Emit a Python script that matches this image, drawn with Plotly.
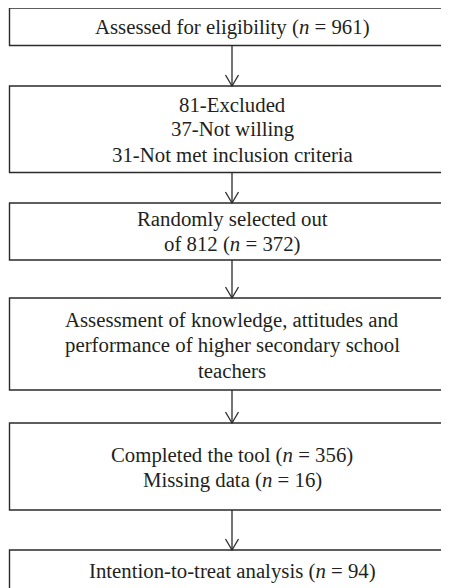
import plotly.graph_objects as go

# ---- content (flowchart steps) ----
step_lines = [
    ["Assessed for eligibility (<i>n</i> = 961)"],
    ["81-Excluded", "37-Not willing", "31-Not met inclusion criteria"],
    ["Randomly selected out", "of 812 (<i>n</i> = 372)"],
    ["Assessment of knowledge, attitudes and",
     "performance of higher secondary school",
     "teachers"],
    ["Completed the tool (<i>n</i> = 356)", "Missing data (<i>n</i> = 16)"],
    ["Intention-to-treat analysis (<i>n</i> = 94)"],
]

# ---- layout geometry (pixels in the 449 x 588 view) ----
W, H = 449, 588
PAGE_OFF = 8  # browser body margin
box_left, box_right = 9.5, 454
box_top = [8, 86, 203, 298, 423, 550]
box_bot = [45.5, 172.5, 260, 390, 510, 600]
text_center = [27, 129, 231, 345, 467, 571]
line_gap = 25
arrow_x = 232
head_w, head_h = 6.5, 11

LINE = "#2a2a2a"
FONT = dict(family="Liberation Serif, Times New Roman, serif", size=20.8, color="#231f20")

fig = go.Figure()
shapes = []
annotations = []

for i, lines in enumerate(step_lines):
    shapes.append(dict(type="rect", xref="x", yref="y",
                       x0=box_left, x1=box_right, y0=box_top[i], y1=box_bot[i],
                       line=dict(color=LINE, width=1.4), fillcolor="rgba(0,0,0,0)"))
    n = len(lines)
    for j, t in enumerate(lines):
        y = text_center[i] + (j - (n - 1) / 2) * line_gap
        annotations.append(dict(x=arrow_x, y=y, xref="x", yref="y", text=t,
                                showarrow=False, font=FONT,
                                xanchor="center", yanchor="middle"))

for i in range(len(step_lines) - 1):
    y0, y1 = box_bot[i], box_top[i + 1]
    shapes.append(dict(type="line", xref="x", yref="y",
                       x0=arrow_x, x1=arrow_x, y0=y0, y1=y1,
                       line=dict(color=LINE, width=1.3)))
    shapes.append(dict(type="path", xref="x", yref="y",
                       path=f"M {arrow_x-head_w},{y1-head_h} L {arrow_x},{y1} L {arrow_x+head_w},{y1-head_h}",
                       line=dict(color=LINE, width=1.3)))

fig.update_layout(
    width=W, height=H,
    margin=dict(l=0, r=0, t=0, b=0),
    paper_bgcolor="white", plot_bgcolor="white",
    xaxis=dict(range=[PAGE_OFF, W + PAGE_OFF], visible=False, fixedrange=True),
    yaxis=dict(range=[H + PAGE_OFF, PAGE_OFF], visible=False, fixedrange=True),
    shapes=shapes, annotations=annotations,
    showlegend=False,
)

fig.write_html("out.html")
